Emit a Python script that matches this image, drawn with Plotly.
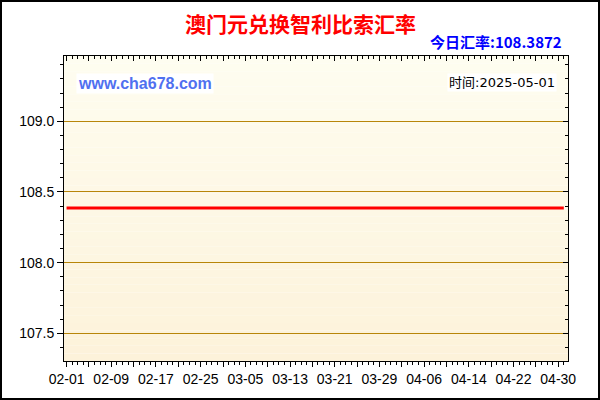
import plotly.graph_objects as go
from datetime import datetime, timedelta

# series (flat over the period)
dates = ["2025-02-01", "2025-05-01"]
rates = [108.3872, 108.3872]

tick_labels = ["02-01", "02-09", "02-17", "02-25", "03-05", "03-13",
               "03-21", "03-29", "04-06", "04-14", "04-22", "04-30"]
y_ticks = [107.5, 108.0, 108.5, 109.0]

title_text = "澳门元兑换智利比索汇率"
rate_text = "今日汇率:108.3872"
site_text = "www.cha678.com"
time_text = "时间:2025-05-01"

W, H = 600, 400
L, R, T, B = 64, 32, 56, 39
pw, ph = W - L - R, H - T - B

# labelled ticks every 8 days, unlabelled major ticks between them
tickvals, ticktext = [], []
for lab in tick_labels:
    d = datetime.strptime("2025-" + lab, "%Y-%m-%d")
    tickvals += [d, d + timedelta(days=4)]
    ticktext += [lab, ""]

xrange_ = ["2025-01-31 13:00", "2025-05-01 18:00"]
yrange_ = [107.304, 109.462]

fig = go.Figure()
fig.add_trace(go.Scatter(x=dates, y=rates, mode="lines",
                         line=dict(color="#ff0000", width=3),
                         hoverinfo="skip", showlegend=False))
# invisible trace to carry the top / right axes
fig.add_trace(go.Scatter(x=dates, y=rates, xaxis="x2", yaxis="y2",
                         mode="lines", line=dict(width=0), opacity=0,
                         showlegend=False, hoverinfo="skip"))

axis_font = dict(family="Liberation Sans, Arial", size=14, color="#000")
fig.update_layout(
    width=W, height=H,
    margin=dict(l=L, r=R, t=T, b=B),
    paper_bgcolor="white",
    plot_bgcolor="rgba(0,0,0,0)",
    xaxis=dict(type="date", range=xrange_, tickvals=tickvals, ticktext=ticktext,
               ticks="outside", ticklen=5, tickcolor="#000", tickwidth=1,
               showgrid=False, showline=True, linecolor="#000", linewidth=1,
               tickfont=axis_font, zeroline=False,
               minor=dict(dtick=86400000, tick0="2025-02-01", ticks="outside",
                          ticklen=3, tickcolor="#000", showgrid=False)),
    yaxis=dict(range=yrange_, tickvals=y_ticks, tickformat=".1f",
               ticks="outside", ticklen=6, tickcolor="#000", tickwidth=1,
               showgrid=True, gridcolor="#b8860b", gridwidth=1,
               showline=True, linecolor="#000", linewidth=1,
               tickfont=axis_font, zeroline=False,
               minor=dict(dtick=0.1, ticks="outside", ticklen=3,
                          tickcolor="#000", showgrid=False)),
    xaxis2=dict(type="date", overlaying="x", side="top", range=xrange_,
                tickvals=tickvals, ticktext=["" for _ in tickvals],
                ticks="inside", ticklen=5, tickcolor="#000",
                showgrid=False, showline=True, linecolor="#000", linewidth=1,
                zeroline=False,
                minor=dict(dtick=86400000, tick0="2025-02-01", ticks="inside",
                           ticklen=3, tickcolor="#000", showgrid=False)),
    yaxis2=dict(overlaying="y", side="right", range=yrange_, tickvals=y_ticks,
                showticklabels=False, ticks="inside", ticklen=5,
                tickcolor="#000", showgrid=False, showline=True,
                linecolor="#000", linewidth=1, zeroline=False,
                minor=dict(dtick=0.1, ticks="inside", ticklen=3,
                           tickcolor="#000", showgrid=False)),
)

# vertical gradient for the plot background
n = 40
top_c, bot_c = (254, 253, 240), (253, 242, 218)
shapes = []
for i in range(n):
    f = (i + 0.5) / n
    c = tuple(round(bot_c[k] + (top_c[k] - bot_c[k]) * f) for k in range(3))
    shapes.append(dict(type="rect", xref="x domain", yref="y domain",
                       x0=0, x1=1, y0=i / n, y1=(i + 1) / n,
                       fillcolor="rgb(%d,%d,%d)" % c, line=dict(width=0),
                       layer="below"))
# outer frame
shapes.append(dict(type="rect", xref="paper", yref="paper",
                   x0=-(L - 1) / pw, x1=1 + (R - 1) / pw,
                   y0=-(B - 1) / ph, y1=1 + (T - 1) / ph,
                   line=dict(color="#000", width=2), fillcolor="rgba(0,0,0,0)"))
fig.update_layout(shapes=shapes)

fig.add_annotation(text="<b>%s</b>" % title_text, xref="paper", yref="paper",
                   x=(300 - L) / pw, y=(H - B - 23) / ph, showarrow=False,
                   xanchor="center", yanchor="middle",
                   font=dict(family="Noto Sans CJK SC", size=21, color="#ff0000"))
fig.add_annotation(text="<b>%s</b>" % rate_text, xref="paper", yref="paper",
                   x=(564 - L) / pw, y=(H - B - 42) / ph, showarrow=False,
                   xanchor="right", yanchor="middle",
                   font=dict(family="Noto Sans CJK SC, Liberation Sans", size=15,
                             color="#0000ff"))
fig.add_annotation(text="<b>%s</b>" % site_text, xref="paper", yref="paper",
                   x=(76 - L) / pw, y=(H - B - 84) / ph, showarrow=False,
                   xanchor="left", yanchor="middle", bgcolor="white",
                   font=dict(family="Liberation Sans, Arial", size=16,
                             color="#5070f0"))
fig.add_annotation(text=time_text, xref="paper", yref="paper",
                   x=(557 - L) / pw, y=(H - B - 82) / ph, showarrow=False,
                   xanchor="right", yanchor="middle", bgcolor="white",
                   font=dict(family="DejaVu Sans, Noto Sans CJK SC", size=13,
                             color="#000"))

fig.write_html("out.html", config={"displayModeBar": False},
               post_script="document.body.style.margin='0';")
